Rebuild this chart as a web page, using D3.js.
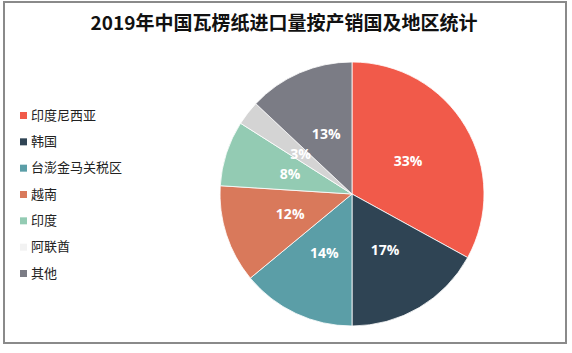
<!DOCTYPE html>
<html>
<head>
<meta charset="utf-8">
<script src="https://cdn.jsdelivr.net/npm/d3@7"></script>
<style>
  body { margin: 0; background: #fff; }
  svg { display: block; }
</style>
</head>
<body>
<svg id="chart" width="572" height="353"></svg>
<script>
const categories = ["印度尼西亚", "韩国", "台澎金马关税区", "越南", "印度", "阿联酋", "其他"];
const shares = [33, 17, 14, 12, 8, 3, 13];
const colors = ["#f15a4a", "#2f4454", "#5b9ea7", "#d9795b", "#93cbb3", "#d4d4d4", "#7b7c85"];
const legendColors = ["#f15a4a", "#2f4454", "#5b9ea7", "#d9795b", "#93cbb3", "#f2f2f2", "#7b7c85"];

const data = categories.map((c, i) => ({ name: c, value: shares[i], color: colors[i] }));

const svg = d3.select("#chart");

// frame
svg.append("rect")
  .attr("x", 4).attr("y", 2)
  .attr("width", 562).attr("height", 341)
  .attr("fill", "#fff")
  .attr("stroke", "#8a8a8a")
  .attr("stroke-width", 2);

// title
svg.append("text")
  .attr("x", 284)
  .attr("y", 30)
  .attr("text-anchor", "middle")
  .attr("font-family", "'Noto Sans CJK SC', sans-serif")
  .attr("font-size", "19px")
  .attr("font-weight", "bold")
  .attr("fill", "#111")
  .text("2019年中国瓦楞纸进口量按产销国及地区统计");

// pie
const cx = 352, cy = 194, r = 132;
const pie = d3.pie().value(d => d.value).sort(null);
const arc = d3.arc().innerRadius(0).outerRadius(r);
const labelArc = d3.arc().innerRadius(65).outerRadius(65);

const g = svg.append("g").attr("transform", `translate(${cx},${cy})`);
const arcs = pie(data);

g.selectAll("path")
  .data(arcs)
  .enter()
  .append("path")
  .attr("d", arc)
  .attr("fill", d => d.data.color)
  .attr("stroke", "#fff")
  .attr("stroke-width", 0.8);

g.selectAll(".lbl")
  .data(arcs)
  .enter()
  .append("text")
  .attr("class", "lbl")
  .attr("transform", d => `translate(${labelArc.centroid(d)})`)
  .attr("text-anchor", "middle")
  .attr("dy", "0.36em")
  .attr("font-family", "'Open Sans', sans-serif")
  .attr("font-size", "14px")
  .attr("font-weight", "bold")
  .attr("fill", "#fff")
  .text(d => d.data.value + "%");

// legend
const legend = svg.append("g");
const rowY = d3.scalePoint().domain(categories).range([115, 273]);

legend.selectAll("rect")
  .data(categories)
  .enter()
  .append("rect")
  .attr("x", 20)
  .attr("y", d => rowY(d) - 3)
  .attr("width", 7)
  .attr("height", 7)
  .attr("fill", (d, i) => legendColors[i]);

legend.selectAll("text")
  .data(categories)
  .enter()
  .append("text")
  .attr("x", 31)
  .attr("y", d => rowY(d))
  .attr("dy", "0.35em")
  .attr("font-family", "'Noto Sans CJK SC', sans-serif")
  .attr("font-size", "13px")
  .attr("fill", "#222")
  .text(d => d);
</script>
</body>
</html>
